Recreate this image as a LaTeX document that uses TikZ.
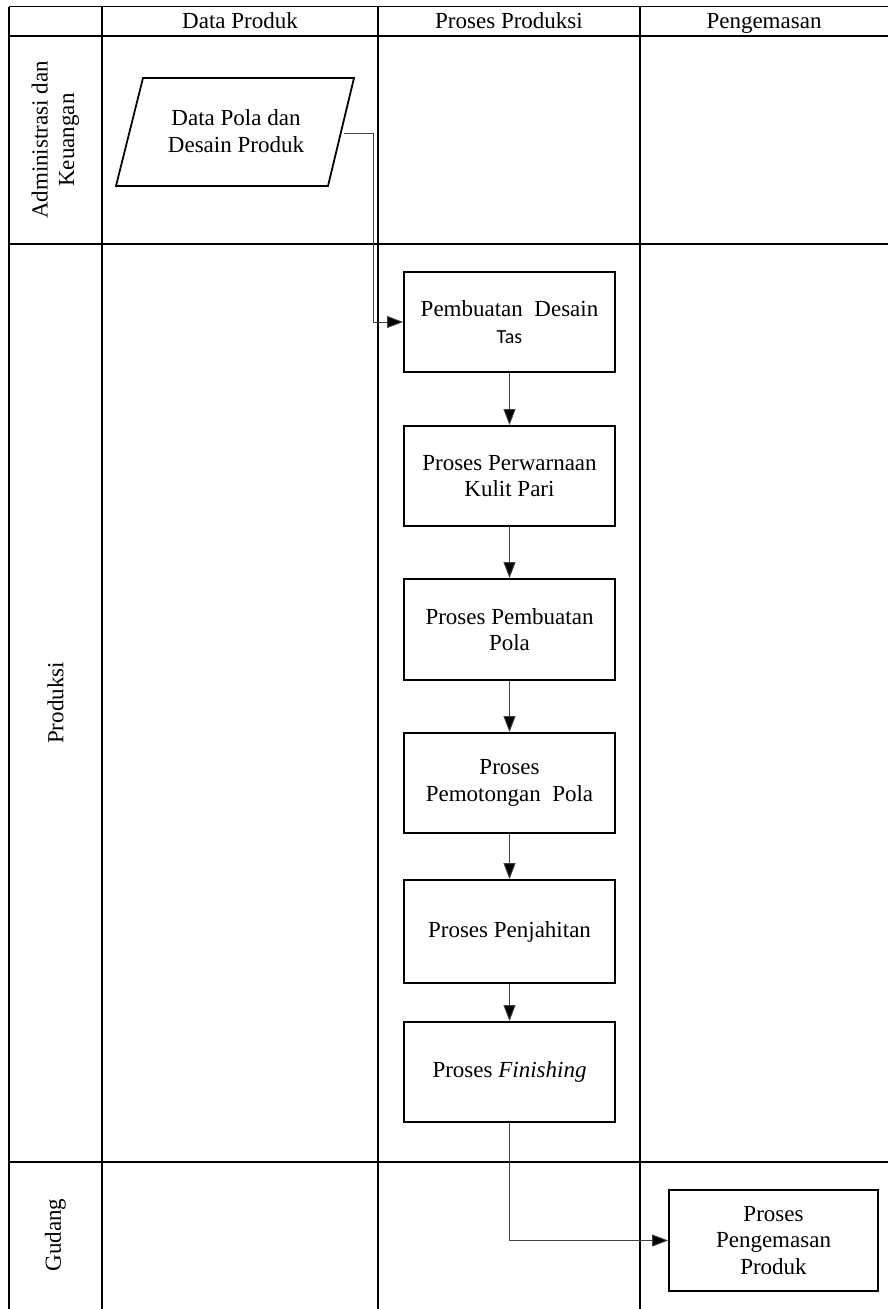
\documentclass[tikz,border=0pt]{standalone}
\usepackage{fontspec}
\setmainfont{Liberation Serif}
\newfontfamily\tasfont{Carlito}
\usetikzlibrary{arrows.meta}
\begin{document}
\begin{tikzpicture}[x=1pt,y=-1pt,
  txt/.style={font=\fontsize{23}{26.5}\selectfont, align=center, inner sep=0pt},
  hdr/.style={txt, anchor=base},
  grid/.style={line width=1.6pt},
  procbox/.style={txt, draw, line width=1.8pt, minimum width=211pt, minimum height=100pt},
  conn/.style={line width=0.9pt, draw=black!75, -{Triangle[length=16pt,width=12pt,fill=black]}},
]
\useasboundingbox (0,0) rectangle (888,1309);

% swimlane grid
\draw[grid] (9,6.5) -- (888,6.5);
\draw[grid] (9,36) -- (888,36);
\draw[grid] (9,244) -- (888,244);
\draw[grid] (9,1162) -- (888,1162);
\draw[grid] (9,6.5) -- (9,1309);
\draw[grid] (102,6.5) -- (102,1309);
\draw[grid] (378,6.5) -- (378,1309);
\draw[grid] (640,6.5) -- (640,1309);

% column headers
\node[hdr] (hdata) at (240,28) {Data Produk};
\node[hdr] (hproses) at (509,28) {Proses Produksi};
\node[hdr] (hkemas) at (764,28) {Pengemasan};

% row headers
\node[txt, rotate=90] (radmin) at (55.5,140) {Administrasi dan\\Keuangan};
\node[txt, rotate=90] (rprod) at (55.5,703) {Produksi};
\node[txt, rotate=90] (rgudang) at (55.5,1235) {Gudang};

% input data (parallelogram)
\draw[line width=1.8pt] (116,186) -- (143,78) -- (354,78) -- (328,186) -- cycle;
\node[txt] (para) at (236,131) {Data Pola dan\\Desain Produk};
\coordinate (paraout) at (344,133);

% process steps
\node[procbox] (b1) at (509.5,322) {Pembuatan~~Desain\\{\tasfont\fontsize{20}{26.5}\selectfont Tas}};
\node[procbox] (b2) at (509.5,476) {Proses Perwarnaan\\Kulit Pari};
\node[procbox, minimum height=101pt] (b3) at (509.5,629.5) {Proses Pembuatan\\Pola};
\node[procbox] (b4) at (509.5,783) {Proses\\Pemotongan~~Pola};
\node[procbox, minimum height=103pt] (b5) at (509.5,931.5) {Proses Penjahitan};
\node[procbox] (b6) at (509.5,1072) {Proses \textit{Finishing}};
\node[procbox, minimum width=209pt, minimum height=101pt] (b7) at (773.5,1240.5) {Proses\\Pengemasan\\Produk};

% connectors
\draw[conn] (paraout) -| ([xshift=-30pt]b1.west) -- (b1.west);
\draw[conn] (b1.south) -- (b2.north);
\draw[conn] (b2.south) -- (b3.north);
\draw[conn] (b3.south) -- (b4.north);
\draw[conn] (b4.south) -- (b5.north);
\draw[conn] (b5.south) -- (b6.north);
\draw[conn] (b6.south) |- (b7.west);
\end{tikzpicture}
\end{document}
